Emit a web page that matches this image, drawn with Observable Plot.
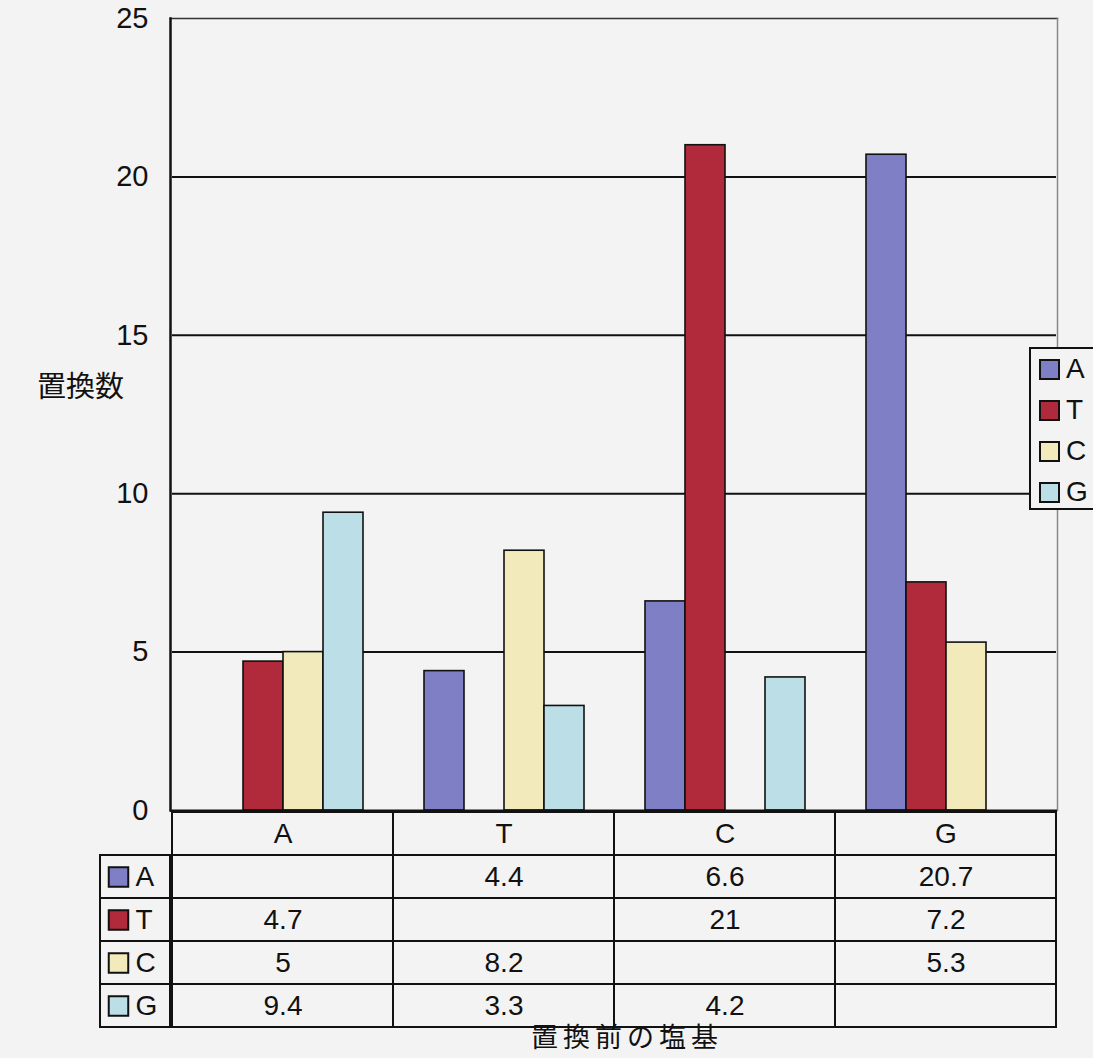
<!DOCTYPE html>
<html>
<head>
<meta charset="utf-8">
<script src="https://cdn.jsdelivr.net/npm/d3@7"></script>
<script src="https://cdn.jsdelivr.net/npm/@observablehq/plot@0.6"></script>
<style>
  html, body { margin: 0; padding: 0; background: #f3f3f3; }
  #wrap { position: relative; width: 1093px; height: 1058px; overflow: hidden; background: #f3f3f3; font-family: "Liberation Sans", Arial, sans-serif; }
  .abs { position: absolute; }
  .cjk { font-family: "Noto Sans CJK JP", sans-serif; color: #111; white-space: nowrap; }
  #legend { left: 1029px; top: 347px; width: 80px; height: 159px; border: 2px solid #111; background: #f3f3f3; box-sizing: content-box; }
  .li { position: absolute; left: 8px; display: flex; align-items: center; font-size: 28px; color: #111; }
  .sw { width: 17px; height: 17px; border: 2px solid #111; margin-right: 6px; }
</style>
</head>
<body>
<div id="wrap"></div>
<script>
// ---- data ----
const categories = ["A", "T", "C", "G"];           // 置換前の塩基
const series = ["A", "T", "C", "G"];               // 置換後の塩基
const valuesA = [null, 4.4, 6.6, 20.7];
const valuesT = [4.7, null, 21, 7.2];
const valuesC = [5, 8.2, null, 5.3];
const valuesG = [9.4, 3.3, 4.2, null];
const colors = ["#7f7fc5", "#b02a3b", "#f3eabb", "#bbdee7"];
const yTicks = [0, 5, 10, 15, 20, 25];
const yTitle = "置換数";
const xTitle = "置換前の塩基";

const seriesValues = { A: valuesA, T: valuesT, C: valuesC, G: valuesG };
const bars = [];
for (const s of series) {
  categories.forEach((c, i) => {
    const v = seriesValues[s][i];
    if (v != null) bars.push({ before: c, after: s, value: v });
  });
}
const cells = [];
categories.forEach((c, i) => {
  cells.push({ cat: c, row: "header", label: c });
  for (const s of series) {
    const v = seriesValues[s][i];
    cells.push({ cat: c, row: s, label: v == null ? "" : String(v) });
  }
});

const wrap = document.getElementById("wrap");
const font = "'Liberation Sans', Arial, sans-serif";
const W = 1093, ML = 170, MR = 36, MT = 18, H = 832, MB = 22;

// ---- main bar chart ----
const main = Plot.plot({
  width: W, height: H,
  marginTop: MT, marginBottom: MB, marginLeft: ML, marginRight: MR,
  style: { background: "transparent", fontFamily: font, fontSize: "28px", color: "#111" },
  fx: { domain: categories, padding: 0, axis: null },
  x: { domain: series, paddingInner: 0, paddingOuter: 0.76, axis: null },
  y: { domain: [0, 25], axis: null },
  color: { domain: series, range: colors },
  marks: [
    Plot.ruleY(yTicks.slice(1, -1), { stroke: "#111", strokeWidth: 2 }),
    Plot.barY(bars, { fx: "before", x: "after", y: "value", fill: "after", stroke: "#111", strokeWidth: 1.6 })
  ]
});
main.classList.add("abs");
main.style.left = "0px"; main.style.top = "0px";
wrap.appendChild(main);

// ---- frame + y axis overlay (not faceted) ----
const frame = Plot.plot({
  width: W, height: H,
  marginTop: MT, marginBottom: MB, marginLeft: ML, marginRight: MR,
  style: { background: "transparent", fontFamily: font, color: "#111" },
  x: { domain: [0, 1], axis: null },
  y: { domain: [0, 25], axis: null },
  marks: [
    Plot.axisY({ ticks: yTicks, tickSize: 0, tickPadding: 22, fontSize: 29, label: null, fill: "#111" }),
    Plot.frame({ anchor: "top", stroke: "#333", strokeWidth: 1.5 }),
    Plot.frame({ anchor: "right", stroke: "#888", strokeWidth: 1.5 }),
    Plot.frame({ anchor: "left", stroke: "#111", strokeWidth: 2.5 }),
    Plot.ruleY([0], { stroke: "#111", strokeWidth: 2 })
  ]
});
frame.classList.add("abs");
frame.style.left = "0px"; frame.style.top = "0px";
wrap.appendChild(frame);

// ---- data table ----
const table = Plot.plot({
  width: W, height: 218,
  marginTop: 1, marginBottom: 1, marginLeft: ML, marginRight: MR,
  style: { background: "transparent", fontFamily: font, fontSize: "28px", color: "#111" },
  x: { domain: categories, padding: 0, axis: null },
  y: { domain: ["header", ...series], padding: 0, axis: null },
  marks: [
    Plot.cell(cells, { x: "cat", y: "row", fill: "none", stroke: "#111", strokeWidth: 2 }),
    Plot.text(cells, { x: "cat", y: "row", text: "label", fill: "#111", fontSize: 28 })
  ]
});
table.classList.add("abs");
table.style.left = "0px"; table.style.top = "810px";
wrap.appendChild(table);

// ---- row headers of table (legend keys) ----
const rowHead = Plot.plot({
  width: 72, height: 218,
  marginTop: 1, marginBottom: 1, marginLeft: 1, marginRight: 1,
  style: { background: "transparent", fontFamily: font, fontSize: "28px", color: "#111" },
  y: { domain: ["header", ...series], padding: 0, axis: null },
  color: { domain: series, range: colors },
  marks: [
    Plot.cell(series, { y: d => d, fill: "none", stroke: "#111", strokeWidth: 2 }),
    Plot.dot(series, { y: d => d, fill: d => d, symbol: "square", r: 11, stroke: "#111", strokeWidth: 2, frameAnchor: "left", dx: 18 }),
    Plot.text(series, { y: d => d, text: d => d, frameAnchor: "left", dx: 35, textAnchor: "start", fill: "#111", fontSize: 28 })
  ]
});
rowHead.classList.add("abs");
rowHead.style.left = "99px"; rowHead.style.top = "810px";
wrap.appendChild(rowHead);

// ---- legend ----
const legend = document.createElement("div");
legend.id = "legend"; legend.className = "abs";
series.forEach((s, i) => {
  const item = document.createElement("div");
  item.className = "li";
  item.style.top = (4 + i * 41) + "px";
  const sw = document.createElement("div");
  sw.className = "sw"; sw.style.background = colors[i];
  const t = document.createElement("span");
  t.textContent = s;
  item.appendChild(sw); item.appendChild(t);
  legend.appendChild(item);
});
wrap.appendChild(legend);

// ---- axis titles ----
const yt = document.createElement("div");
yt.className = "abs cjk"; yt.textContent = yTitle;
yt.style.left = "37px"; yt.style.top = "366px"; yt.style.fontSize = "29px"; yt.style.lineHeight = "36px";
wrap.appendChild(yt);

const xt = document.createElement("div");
xt.className = "abs cjk"; xt.textContent = xTitle;
xt.style.left = "531px"; xt.style.top = "1022px"; xt.style.fontSize = "27px"; xt.style.lineHeight = "27px"; xt.style.letterSpacing = "5px";
wrap.appendChild(xt);
</script>
</body>
</html>
